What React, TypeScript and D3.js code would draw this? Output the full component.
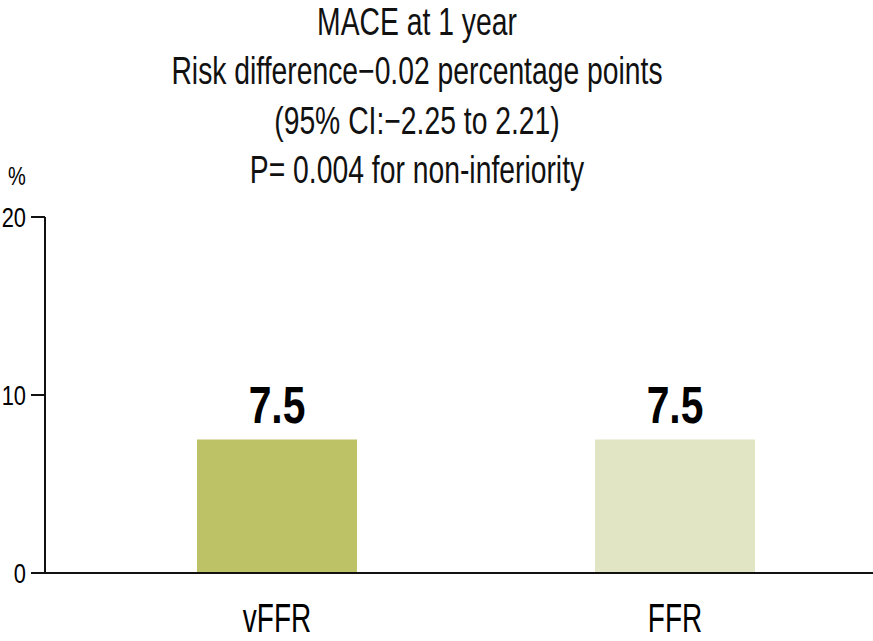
import React, { useEffect, useRef } from "react";
import * as d3 from "d3";

const categories = ["vFFR", "FFR"];
const values = [7.5, 7.5];
const barColours = ["#bdc267", "#e2e5c4"];
const yTicks = [0, 10, 20];
const titleLines = [
  "MACE at 1 year",
  "Risk difference\u22120.02 percentage points",
  "(95% CI:\u22122.25 to 2.21)",
  "P= 0.004 for non-inferiority",
];

const width = 873;
const height = 641;
const font = "'Liberation Sans', Arial, sans-serif";

// no condensed face is available, so the glyphs are squeezed horizontally
function squeezed(x: number, y: number, s: number) {
  return `translate(${x},${y}) scale(${s},1)`;
}

export default function App() {
  const svgRef = useRef<SVGSVGElement | null>(null);

  useEffect(() => {
    const svg = d3.select(svgRef.current);
    svg.selectAll("*").remove();

    const axisX = 45;
    const y = d3.scaleLinear().domain([0, 20]).range([573, 217]);
    const x = d3.scalePoint<string>().domain(categories).range([277, 675]);
    const barWidth = 160;

    // title block
    svg
      .append("g")
      .selectAll("text")
      .data(titleLines)
      .enter()
      .append("text")
      .attr("transform", (d, i) => squeezed(417, 35 + i * 49.4, 0.745))
      .attr("text-anchor", "middle")
      .style("font-family", font)
      .style("font-size", "38px")
      .style("fill", "#111")
      .text(d => d);

    svg
      .append("text")
      .attr("transform", squeezed(17, 185, 0.8))
      .attr("text-anchor", "middle")
      .style("font-family", font)
      .style("font-size", "25px")
      .text("%");

    // bars
    svg
      .append("g")
      .selectAll("rect")
      .data(values)
      .enter()
      .append("rect")
      .attr("x", (d, i) => (x(categories[i]) as number) - barWidth / 2)
      .attr("y", d => y(d))
      .attr("width", barWidth)
      .attr("height", d => y(0) - y(d))
      .style("fill", (d, i) => barColours[i]);

    // value labels
    svg
      .append("g")
      .selectAll("text")
      .data(values)
      .enter()
      .append("text")
      .attr("transform", (d, i) => squeezed(x(categories[i]) as number, y(d) - 17, 0.8))
      .attr("text-anchor", "middle")
      .style("font-family", font)
      .style("font-weight", "bold")
      .style("font-size", "51px")
      .text(d => d.toFixed(1));

    // y axis
    const yAxis = svg.append("g").attr("transform", `translate(${axisX},0)`);
    yAxis
      .append("line")
      .attr("y1", y(20))
      .attr("y2", y(0))
      .attr("stroke", "#111")
      .attr("stroke-width", 2);
    yAxis
      .selectAll("line.tick")
      .data(yTicks)
      .enter()
      .append("line")
      .attr("class", "tick")
      .attr("x1", -14)
      .attr("x2", 0)
      .attr("y1", d => y(d))
      .attr("y2", d => y(d))
      .attr("stroke", "#111")
      .attr("stroke-width", 2);
    yAxis
      .selectAll("text")
      .data(yTicks)
      .enter()
      .append("text")
      .attr("transform", d => squeezed(-19, y(d) + 10, 0.78))
      .attr("text-anchor", "end")
      .style("font-family", font)
      .style("font-size", "28px")
      .text(d => d);

    // x axis
    svg
      .append("line")
      .attr("x1", axisX)
      .attr("x2", width)
      .attr("y1", y(0))
      .attr("y2", y(0))
      .attr("stroke", "#111")
      .attr("stroke-width", 2);

    svg
      .append("g")
      .selectAll("text")
      .data(categories)
      .enter()
      .append("text")
      .attr("transform", d => squeezed(x(d) as number, 632, 0.7))
      .attr("text-anchor", "middle")
      .style("font-family", font)
      .style("font-size", "40px")
      .text(d => d);
  }, []);

  return (
    <svg
      width={width}
      height={height}
      ref={svgRef}
      style={{ position: "absolute", left: 0, top: 0, background: "#fff" }}
    />
  );
}
